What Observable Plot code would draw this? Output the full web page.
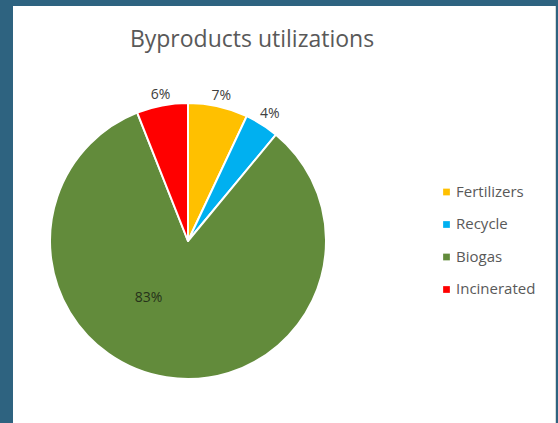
<!DOCTYPE html>
<html>
<head>
<meta charset="utf-8">
<script src="https://cdn.jsdelivr.net/npm/d3@7"></script>
<script src="https://cdn.jsdelivr.net/npm/@observablehq/plot@0.6"></script>
<style>
  html, body { margin: 0; padding: 0; background: #2e6380; width: 558px; height: 423px; overflow: hidden; }
  #panel { position: absolute; left: 13px; top: 6px; width: 542px; height: 417px; background: #fff; border-right: 1px solid #d9d9d9; }
</style>
</head>
<body>
<div id="panel"></div>
<script>
// ---- data ----
const title = "Byproducts utilizations";
const categories = ["Fertilizers", "Recycle", "Biogas", "Incinerated"];
const shares = [7, 4, 83, 6];
const colors = ["#ffc000", "#00b0f0", "#628b3b", "#ff0000"];
const labelInside = [false, false, true, false];

// ---- layout ----
const W = 542, H = 417;
const cx = 175, cy = 235, R = 138;
const fontFamily = "'Open Sans', 'Liberation Sans', sans-serif";
const labelSize = 14, labelGap = 5.5;

const rows = categories.map((c, i) => ({cat: c, value: shares[i], inside: labelInside[i]}));
const arcs = d3.pie().sort(null).value(d => d.value)(rows);

const labels = arcs.map(a => {
  const text = a.data.value + "%";
  const mid = (a.startAngle + a.endAngle) / 2;
  let ang, rr;
  if (a.data.inside) {
    ang = mid + 0.46;
    rr = R * 0.5;
  } else {
    // push the label box just outside the rim along the mid angle
    const w = text.length * 0.55 * labelSize, h = 0.72 * labelSize;
    ang = mid;
    rr = R + labelGap + Math.abs(Math.sin(mid)) * w / 2 + Math.abs(Math.cos(mid)) * h / 2;
  }
  return {text, x: cx + rr * Math.sin(ang), y: cy - rr * Math.cos(ang), inside: a.data.inside};
});

const legendX = 433, legendY0 = 185.5, legendStep = 32.5;
const legend = categories.map((c, i) => ({cat: c, y: legendY0 + i * legendStep}));

const arcGen = d3.arc().innerRadius(0).outerRadius(R);

const chart = Plot.plot({
  width: W,
  height: H,
  margin: 0,
  style: {background: "transparent", fontFamily},
  x: {domain: [0, W], range: [0, W], axis: null},
  y: {domain: [0, H], range: [0, H], axis: null},
  color: {domain: categories, range: colors},
  marks: [
    (index, scales) => {
      const g = d3.create("svg:g")
        .attr("transform", `translate(${scales.x(cx)},${scales.y(cy)})`);
      g.selectAll("path")
        .data(arcs)
        .join("path")
        .attr("d", arcGen)
        .attr("fill", d => scales.color(d.data.cat))
        .attr("stroke", "#ffffff")
        .attr("stroke-width", 2)
        .attr("stroke-linejoin", "round");
      return g.node();
    },
    Plot.text(labels, {
      x: "x", y: "y", text: "text",
      fill: d => d.inside ? "#26321a" : "#404040",
      fontSize: labelSize, textAnchor: "middle", lineAnchor: "middle"
    }),
    Plot.text([title], {
      x: 238.5, y: 40.7, text: d => d,
      fill: "#595959", fontSize: 23, textAnchor: "middle", lineAnchor: "bottom"
    }),
    Plot.dot(legend, {
      x: legendX, y: "y", fill: "cat", symbol: "square", r: 3.8, stroke: null
    }),
    Plot.text(legend, {
      x: legendX + 9.5, y: "y", text: "cat",
      fill: "#595959", fontSize: 15, textAnchor: "start", lineAnchor: "middle"
    })
  ]
});
document.getElementById("panel").appendChild(chart);
</script>
</body>
</html>
